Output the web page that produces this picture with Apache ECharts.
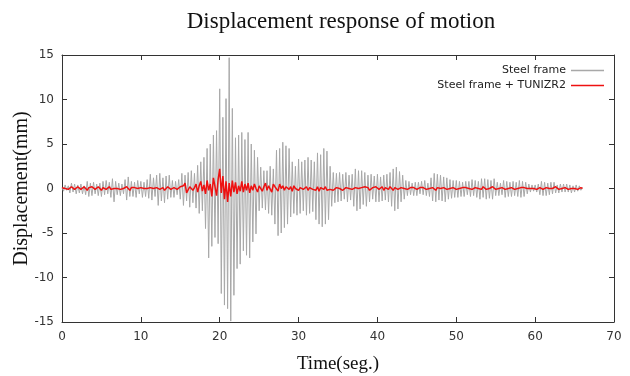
<!DOCTYPE html>
<html>
<head>
<meta charset="utf-8">
<script src="https://cdn.jsdelivr.net/npm/echarts@6/dist/echarts.min.js"></script>
<style>html,body{margin:0;padding:0;background:#fff;}#c{width:630px;height:376px;}</style>
</head>
<body>
<div id="c"></div>
<script>
var titleText = 'Displacement response of motion';
var xName = 'Time(seg.)';
var yName = 'Displacement(mm)';
var seriesNames = ['Steel frame', 'Steel frame + TUNIZR2'];
var dt = 0.2; // sampling step (s)
var xTicks = [0, 10, 20, 30, 40, 50, 60, 70];
var yTicks = [-15, -10, -5, 0, 5, 10, 15];

// Steel frame displacement (mm), 0.2 s step, one row per second
var steelFrame = [
 0.1,-0.3,0.4,-0.2,0.3,
 -0.5,0.6,-0.4,0.5,-0.6,
 0.4,-0.5,0.5,-0.6,0.3,
 -0.7,0.8,-0.9,0.6,-0.8,
 0.7,-0.6,0.5,-0.8,0.6,
 -0.9,0.8,-0.7,0.9,-0.6,
 0.7,-1.0,1.1,-1.5,0.8,
 -0.7,0.6,-0.8,0.5,-0.6,
 1.0,-1.3,1.3,-0.9,0.8,
 -0.9,0.7,-1.0,0.9,-0.6,
 0.8,-1.0,0.7,-0.9,1.0,
 -1.1,1.6,-1.3,1.2,-0.9,
 1.5,-1.9,1.7,-1.4,1.2,
 -1.6,1.4,-1.2,1.5,-1.0,
 0.9,-1.0,0.8,-0.7,1.0,
 -1.2,1.7,-1.9,1.5,-1.4,
 1.8,-2.1,2.0,-1.6,1.7,
 -2.2,2.6,-2.8,3.0,-2.5,
 3.5,-4.5,4.5,-7.8,5.0,
 -6.5,6.0,-5.5,6.5,-6.2,
 11.2,-11.8,8.0,-13.1,10.1,
 -13.5,14.7,-14.9,9.0,-12.0,
 5.7,-9.0,6.0,-8.5,6.3,
 -7.0,5.5,-7.5,6.3,-7.8,
 5.0,-6.0,4.3,-5.1,3.5,
 -2.5,2.4,-2.2,2.0,-2.4,
 2.0,-2.8,2.5,-3.0,2.2,
 -4.0,4.3,-5.3,4.5,-5.0,
 5.2,-4.4,4.8,-4.0,4.5,
 -3.2,3.0,-2.8,2.5,-3.0,
 3.3,-2.8,3.0,-2.5,3.2,
 -3.0,3.5,-2.8,3.2,-2.6,
 3.0,-3.5,4.0,-4.0,3.8,
 -4.3,4.5,-4.0,4.2,-3.5,
 2.5,-2.0,1.8,-1.6,1.7,
 -1.5,1.8,-1.4,1.6,-1.2,
 1.8,-1.5,1.5,-1.3,1.6,
 -2.0,2.2,-2.5,2.0,-2.3,
 2.0,-1.8,1.8,-2.0,1.5,
 -1.5,1.6,-1.2,1.4,-1.5,
 1.6,-1.5,1.3,-1.4,1.5,
 -1.3,1.6,-1.5,1.8,-2.0,
 2.2,-2.5,2.4,-2.3,1.9,
 -1.5,1.5,-1.2,0.9,-0.8,
 0.8,-0.7,0.6,-0.8,0.7,
 -0.8,0.7,-0.6,0.8,-0.7,
 0.9,-0.8,0.6,-0.9,1.2,
 -1.4,1.7,-1.5,1.6,-1.3,
 1.5,-1.4,1.3,-1.5,1.2,
 -1.2,1.0,-1.1,0.9,-1.0,
 0.9,-1.0,0.8,-0.9,0.7,
 -0.9,0.8,-0.7,0.8,-0.9,
 1.0,-0.8,0.9,-1.0,0.8,
 -1.2,1.1,-1.0,1.1,-1.2,
 1.0,-1.1,0.9,-1.2,1.1,
 -0.8,0.7,-0.8,0.6,-0.7,
 0.9,-1.0,0.8,-0.9,0.7,
 -0.9,0.8,-0.8,0.7,-0.9,
 0.9,-1.0,0.8,-0.9,0.7,
 -0.6,0.5,-0.4,0.4,-0.3,
 0.4,-0.4,0.5,-0.7,0.8,
 -0.8,0.7,-0.8,0.6,-0.7,
 0.7,-0.6,0.7,-0.5,0.4,
 -0.5,0.5,-0.4,0.5,-0.4,
 0.5,-0.4,0.4,-0.5,0.3,
 -0.4,0.4,-0.3,0.3,-0.2,
 0.1
];

// Steel frame + TUNIZR2 displacement (mm), 0.2 s step
var steelTuned = [
 0.1,0.2,0.0,0.1,-0.1,
 0.0,0.2,0.1,-0.1,0.1,
 0.2,0.0,-0.1,0.1,0.2,
 0.0,-0.2,0.1,0.0,0.2,
 0.1,-0.1,0.0,0.2,0.0,
 -0.2,0.1,0.0,-0.1,0.1,
 0.2,-0.1,-0.3,0.0,0.1,
 0.0,0.1,-0.1,0.1,0.0,
 -0.1,0.2,0.0,-0.2,0.1,
 0.0,0.1,-0.1,0.0,0.2,
 0.1,-0.1,0.0,0.2,0.0,
 -0.1,0.1,0.2,0.0,-0.2,
 0.1,0.2,-0.1,0.0,0.1,
 -0.2,0.0,0.2,0.1,-0.1,
 0.0,0.1,0.0,-0.1,0.1,
 0.2,0.0,0.3,0.6,-0.5,
 -0.7,0.2,0.3,-0.2,0.1,
 0.5,-0.4,0.3,0.8,-0.3,
 0.4,-0.6,0.9,-0.2,0.5,
 -0.9,1.2,0.2,-0.8,1.0,
 2.2,-0.5,1.4,-1.2,0.8,
 -1.5,0.6,-0.9,0.9,-0.4,
 0.7,-0.6,0.3,-0.3,0.8,
 -0.4,0.5,-0.2,0.6,-0.5,
 0.3,-0.2,0.5,0.0,-0.4,
 0.3,0.5,-0.3,0.2,0.6,
 -0.2,0.3,0.1,-0.4,0.5,
 0.2,0.4,-0.3,0.5,0.0,
 0.3,-0.2,0.2,0.4,-0.1,
 0.2,-0.3,0.3,0.0,0.2,
 -0.2,0.1,0.3,-0.1,0.0,
 0.2,-0.2,0.1,0.0,-0.1,
 0.1,-0.2,0.2,-0.3,0.1,
 0.0,-0.1,0.2,-0.2,0.0,
 -0.1,0.1,-0.2,0.0,0.1,
 -0.1,0.0,0.1,-0.2,0.0,
 0.1,-0.1,0.0,0.2,-0.1,
 0.0,0.1,0.3,0.0,-0.2,
 0.1,-0.1,0.2,0.0,0.1,
 -0.2,0.0,0.1,-0.1,0.2,
 0.0,-0.1,0.1,0.2,-0.2,
 0.1,0.0,-0.1,0.2,0.1,
 -0.2,0.1,0.3,-0.1,0.0,
 0.1,-0.1,0.0,0.1,-0.1,
 0.0,0.1,-0.1,0.1,0.0,
 -0.1,0.0,0.1,-0.1,0.1,
 0.0,-0.1,0.1,0.0,-0.1,
 0.1,0.0,-0.2,0.1,0.2,
 0.0,-0.1,0.1,0.0,-0.1,
 0.1,0.0,-0.1,0.1,0.0,
 -0.1,0.1,0.0,-0.1,0.1,
 0.0,0.1,-0.1,0.0,0.1,
 -0.1,0.0,0.1,-0.1,0.0,
 0.1,-0.1,0.2,0.0,-0.1,
 0.1,0.0,-0.1,0.2,0.0,
 -0.1,0.1,0.0,-0.1,0.1,
 0.0,-0.1,0.1,0.0,-0.1,
 0.1,0.0,-0.1,0.1,0.0,
 -0.1,0.1,0.0,0.1,-0.1,
 0.0,0.1,0.0,-0.1,0.0,
 0.1,-0.1,0.0,0.1,0.0,
 -0.1,0.0,0.1,-0.1,0.0,
 0.1,0.0,-0.1,0.2,0.0,
 -0.1,0.1,0.0,-0.1,0.1,
 0.0,-0.1,0.1,0.0,0.1,
 0.0,0.1,-0.1,0.0,0.1,
 0.0
];

function toPairs(arr) {
  return arr.map(function (v, i) { return [+(i * dt).toFixed(2), v]; });
}

var chart = echarts.init(document.getElementById('c'), null, {renderer: 'canvas'});
var tickFont = {fontFamily: 'DejaVu Sans', fontSize: 12, color: '#333'};
var axisLineStyle = {color: '#333', width: 1};
var xMin = xTicks[0], xMax = xTicks[xTicks.length - 1], xInt = xTicks[1] - xTicks[0];
var yMin = yTicks[0], yMax = yTicks[yTicks.length - 1], yInt = yTicks[1] - yTicks[0];

chart.setOption({
  animation: false,
  backgroundColor: '#fff',
  title: {
    text: titleText,
    left: 336,
    top: 5,
    textAlign: 'center',
    textStyle: {fontFamily: 'Liberation Serif', fontSize: 23, fontWeight: 'normal', color: '#111'}
  },
  legend: {
    orient: 'vertical',
    right: 21,
    top: 60,
    align: 'right',
    itemWidth: 33,
    itemHeight: 1.5,
    itemGap: 4,
    icon: 'rect',
    textStyle: {fontFamily: 'DejaVu Sans', fontSize: 11, color: '#222'},
    data: seriesNames
  },
  grid: {left: 62, right: 16, top: 55, bottom: 54, containLabel: false, outerBoundsMode: 'none'},
  xAxis: [{
    type: 'value', min: xMin, max: xMax, interval: xInt,
    name: xName, nameLocation: 'middle', nameGap: 33,
    nameTextStyle: {fontFamily: 'Liberation Serif', fontSize: 19, color: '#111'},
    axisLine: {show: true, onZero: false, lineStyle: axisLineStyle},
    axisTick: {show: true, inside: true, length: 5, lineStyle: axisLineStyle},
    axisLabel: Object.assign({margin: 9}, tickFont),
    splitLine: {show: false}
  }, {
    type: 'value', position: 'top', min: xMin, max: xMax, interval: xInt,
    axisLine: {show: true, onZero: false, lineStyle: axisLineStyle},
    axisTick: {show: true, inside: true, length: 5, lineStyle: axisLineStyle},
    axisLabel: {show: false}, splitLine: {show: false}
  }],
  yAxis: [{
    type: 'value', min: yMin, max: yMax, interval: yInt,
    name: yName, nameLocation: 'middle', nameGap: 30, nameMoveOverlap: false,
    nameTextStyle: {fontFamily: 'Liberation Serif', fontSize: 20, color: '#111'},
    axisLine: {show: true, onZero: false, lineStyle: axisLineStyle},
    axisTick: {show: true, inside: true, length: 5, lineStyle: axisLineStyle},
    axisLabel: Object.assign({margin: 8}, tickFont),
    splitLine: {show: false}
  }, {
    type: 'value', position: 'right', min: yMin, max: yMax, interval: yInt,
    axisLine: {show: true, onZero: false, lineStyle: axisLineStyle},
    axisTick: {show: true, inside: true, length: 5, lineStyle: axisLineStyle},
    axisLabel: {show: false}, splitLine: {show: false}
  }],
  series: [{
    name: seriesNames[0], type: 'line', showSymbol: false, symbol: 'none',
    color: '#a8a8a8',
    lineStyle: {color: '#a8a8a8', width: 1},
    data: toPairs(steelFrame)
  }, {
    name: seriesNames[1], type: 'line', showSymbol: false, symbol: 'none',
    color: '#ee1111',
    lineStyle: {color: '#ee1111', width: 1.5},
    data: toPairs(steelTuned)
  }]
});
</script>
</body>
</html>
